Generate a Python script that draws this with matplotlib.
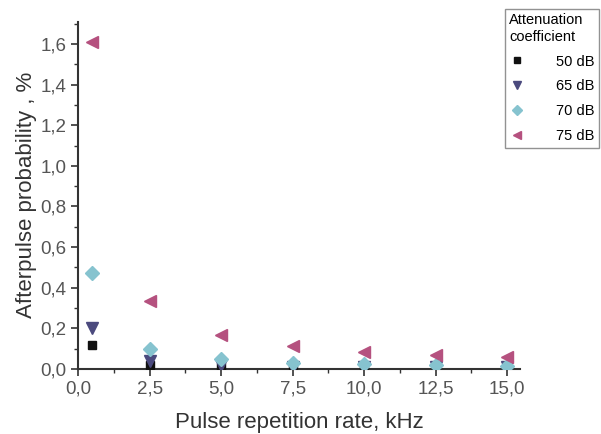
import matplotlib

matplotlib.use("Agg")
import matplotlib.pyplot as plt
from matplotlib.ticker import MultipleLocator, FuncFormatter

plt.rcParams["font.family"] = ["Liberation Sans", "DejaVu Sans"]

# Pulse repetition rate, kHz
rate = [0.5, 2.5, 5.0, 7.5, 10.0, 12.5, 15.0]

# Afterpulse probability, % for each attenuation
p_50 = [0.12, 0.02, 0.01, 0.01, 0.01, 0.01, 0.01]
p_65 = [0.20, 0.04, 0.02, 0.01, 0.01, 0.01, 0.01]
p_70 = [0.47, 0.10, 0.05, 0.03, 0.025, 0.02, 0.015]
p_75 = [1.61, 0.335, 0.165, 0.115, 0.085, 0.07, 0.06]

labels = ["50 dB", "65 dB", "70 dB", "75 dB"]

fig = plt.figure(figsize=(6.01, 4.34), dpi=100)
ax = fig.add_axes([0.13, 0.15, 0.735, 0.80])

ax.plot(rate, p_50, "s", color="#111111", markersize=6, label=labels[0], zorder=3)
ax.plot(rate, p_65, "v", color="#4b4a7e", markersize=8, label=labels[1], zorder=3)
ax.plot(rate, p_70, "D", color="#86c3cf", markersize=7, label=labels[2], zorder=3)
ax.plot(rate, p_75, "<", color="#b5517f", markersize=8, label=labels[3], zorder=3)

ax.set_xlim(0, 15.45)
ax.set_ylim(0, 1.71)
ax.xaxis.set_major_locator(MultipleLocator(2.5))
ax.xaxis.set_minor_locator(MultipleLocator(1.25))
ax.yaxis.set_major_locator(MultipleLocator(0.2))
ax.yaxis.set_minor_locator(MultipleLocator(0.1))
comma = FuncFormatter(lambda v, pos: f"{v:.1f}".replace(".", ","))
ax.xaxis.set_major_formatter(comma)
ax.yaxis.set_major_formatter(comma)

for side in ("top", "right"):
    ax.spines[side].set_visible(False)
for side in ("left", "bottom"):
    ax.spines[side].set_linewidth(1.5)
    ax.spines[side].set_color("#333333")

ax.tick_params(which="major", direction="out", length=5, width=1.2,
               labelsize=13.5, colors="#333333", labelcolor="#555555")
ax.tick_params(which="minor", direction="out", length=3, width=1,
               colors="#333333")

ax.set_xlabel("Pulse repetition rate, kHz", fontsize=16, color="#333333",
              labelpad=10)
ax.set_ylabel("Afterpulse probability , %", fontsize=16, color="#333333",
              labelpad=2)

# legend runs off the right edge, as in the original figure
leg = fig.legend(
    title="Attenuation\ncoefficient",
    loc="upper left",
    bbox_to_anchor=(505 / 601, 1 - 9 / 434),
    fontsize=10.5,
    title_fontsize=10.5,
    frameon=True,
    fancybox=False,
    edgecolor="#777777",
    borderpad=0.3,
    labelspacing=0.75,
    handletextpad=2.2,
    handlelength=1.0,
    borderaxespad=0,
    markerscale=0.8,
)
leg._legend_box.align = "left"
leg.get_frame().set_linewidth(1)

fig.savefig("out.png", dpi=100, facecolor="white")
plt.close(fig)
